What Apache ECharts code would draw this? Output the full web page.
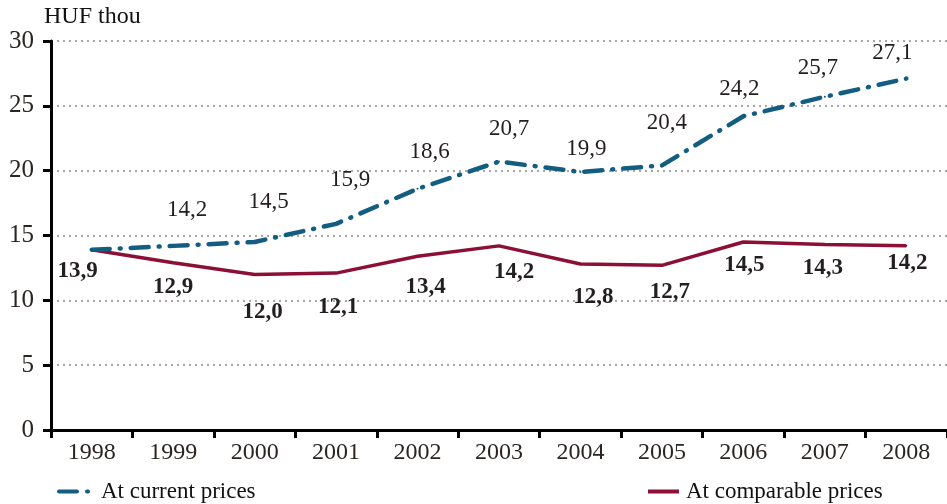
<!DOCTYPE html>
<html>
<head>
<meta charset="utf-8">
<script src="https://cdn.jsdelivr.net/npm/echarts@6/dist/echarts.min.js"></script>
<style>html,body{margin:0;padding:0;background:#fff}#c{width:947px;height:504px}</style>
</head>
<body>
<div id="c"></div>
<script>
// ---- data ----
const years = ['1998','1999','2000','2001','2002','2003','2004','2005','2006','2007','2008'];
const currentPrices = [13.9, 14.2, 14.5, 15.9, 18.6, 20.7, 19.9, 20.4, 24.2, 25.7, 27.1];
const comparablePrices = [13.9, 12.9, 12.0, 12.1, 13.4, 14.2, 12.8, 12.7, 14.5, 14.3, 14.2];
const yTicks = [0, 5, 10, 15, 20, 25, 30];
const seriesNames = ['At current prices', 'At comparable prices'];
const unitLabel = 'HUF thou';

// ---- label layout (style, not data) ----
const currentLabelOffsets = [null, [14,-36],[14,-40],[14,-44],[12,-37],[10,-33],[6,-23],[5,-43],[-4,-27],[-7,-29],[-14,-26]];
const comparableLabelOffsets = [[-14,21],[0,24],[8,38],[2,34],[8,31],[15,26],[13,33],[8,27],[1,23],[-2,23],[1,17]];

const fmt = v => v.toFixed(1).replace('.', ',');
const FONT = 'Liberation Serif';
const BLUE = '#135d80';
const RED = '#8c0f35';

function buildItems(values, offsets, bold) {
  return values.map((v, i) => {
    const off = offsets[i];
    return {
      value: v,
      label: off ? {
        show: true, position: 'inside', offset: off,
        formatter: fmt(v),
        fontFamily: FONT, fontSize: 23, fontWeight: bold ? 'bold' : 'normal',
        color: '#231f20'
      } : { show: false }
    };
  });
}

const chart = echarts.init(document.getElementById('c'));
chart.setOption({
  animation: false,
  backgroundColor: '#fff',
  grid: { left: 51, right: -5, top: 41, bottom: 74, containLabel: false },
  graphic: [{
    type: 'text', left: 44, top: 5,
    style: { text: unitLabel, font: '24px "Liberation Serif"', fill: '#111' }
  }],
  legend: [
    { data: [seriesNames[0]], left: 52, bottom: -4, itemWidth: 36, itemHeight: 14,
      itemStyle: { opacity: 0 }, lineStyle: { width: 4 },
      textStyle: { fontFamily: FONT, fontSize: 23, color: '#111', padding: [0, 0, 0, 1] } },
    { data: [seriesNames[1]], left: 641, bottom: -4, itemWidth: 31, itemHeight: 14,
      itemStyle: { opacity: 0 }, lineStyle: { width: 4 },
      textStyle: { fontFamily: FONT, fontSize: 23, color: '#111', padding: [0, 0, 0, 2] } }
  ],
  xAxis: {
    type: 'category', data: years, boundaryGap: true,
    axisLine: { lineStyle: { color: '#000', width: 3 } },
    axisTick: { show: true, length: 8, lineStyle: { color: '#000', width: 3 } },
    axisLabel: { fontFamily: FONT, fontSize: 24, color: '#2b2522', margin: 11 },
    splitLine: { show: false }
  },
  yAxis: {
    type: 'value', min: yTicks[0], max: yTicks[yTicks.length - 1], interval: 5,
    axisLine: { show: true, lineStyle: { color: '#000', width: 3 } },
    axisTick: { show: true, length: 8, lineStyle: { color: '#000', width: 3 } },
    axisLabel: { fontFamily: FONT, fontSize: 25, color: '#2b2522', margin: 17 },
    splitLine: { show: true, lineStyle: { color: '#8a8a8a', width: 1.5, type: [2, 4] } }
  },
  series: [
    {
      name: seriesNames[0], type: 'line', data: buildItems(currentPrices, currentLabelOffsets, false),
      symbol: 'circle', symbolSize: 2, showSymbol: true,
      itemStyle: { color: BLUE },
      lineStyle: { color: BLUE, width: 4.5, type: [18, 10, 1, 10], cap: 'round' },
      z: 3
    },
    {
      name: seriesNames[1], type: 'line', data: buildItems(comparablePrices, comparableLabelOffsets, true),
      symbol: 'circle', symbolSize: 2, showSymbol: true,
      itemStyle: { color: RED },
      lineStyle: { color: RED, width: 3.5 },
      z: 2
    }
  ]
});
</script>
</body>
</html>
